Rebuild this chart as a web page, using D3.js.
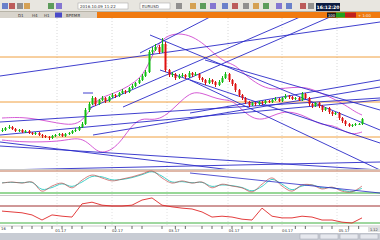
<!DOCTYPE html>
<html><head><meta charset="utf-8">
<script src="https://cdn.jsdelivr.net/npm/d3@7"></script>
<style>body{margin:0;background:#fff}svg{display:block;font-family:"DejaVu Sans",sans-serif}</style>
</head><body><svg id="c" width="380" height="240"></svg>
<script>
// ---- data ----
const opens=[69,70,72,73,71,69,70,68,69,67,66,67,65,64,63,62,64,65,66,64,66,67,69,70,73,76,90,96,102,96,100,102,99,103,105,104,107,109,108,112,114,117,120,124,128,148,150,153,148,156,130,125,126,122,124,125,123,127,125,126,122,120,117,120,118,115,118,122,126,120,116,110,105,102,98,95,97,96,98,97,99,98,100,101,99,102,104,103,101,102,100,106,102,96,94,97,94,90,92,88,86,87,82,79,76,74,75,76,76];
const closes=[70,72,73,71,69,70,68,69,67,66,67,65,64,63,62,64,65,66,64,66,67,69,70,73,76,90,96,102,96,100,102,99,103,105,104,107,109,108,112,114,117,120,124,128,148,150,153,148,156,130,125,126,122,124,125,123,127,125,126,122,120,117,120,118,115,118,122,126,120,116,110,105,102,98,95,97,96,98,97,99,98,100,101,99,102,104,103,101,102,100,106,102,96,94,97,94,90,92,88,86,87,82,79,76,74,75,76,76,81];
const highs=[72,73,75,74,72,71,71,70,70,68,68,68,66,65,64,65,66,67,67,67,68,70,72,74,78,92,98,104,103,101,104,103,104,107,106,108,111,110,113,116,118,122,126,130,150,153,156,155,162,158,131,128,127,126,127,126,129,128,128,127,123,121,122,121,119,120,124,128,127,121,117,111,106,103,99,98,98,99,99,100,100,101,103,102,103,106,105,104,103,103,108,107,103,97,98,98,95,93,93,89,88,88,83,80,77,76,77,77,82];
const lows=[68,69,71,70,68,68,67,67,66,65,65,64,62,62,60,61,63,64,63,63,65,66,68,69,72,75,88,95,94,95,99,97,98,102,102,103,106,106,107,111,113,116,119,123,127,146,149,146,147,128,123,123,120,121,123,121,122,123,124,120,118,115,116,116,113,114,117,121,118,114,108,103,100,96,93,94,94,95,95,96,97,97,99,98,98,101,101,100,100,99,99,101,94,92,93,92,88,89,86,84,85,80,77,74,73,73,74,75,75];
// Bollinger bands, read at [candle index, price]
const bbUpper=[[0,82],[6,83],[12,80],[18,76],[22,75],[25,82],[28,100],[32,105],[36,110],[40,118],[43,128],[46,152],[49,164],[53,167],[57,164],[61,155],[64,145],[67,138],[70,135],[73,125],[77,115],[81,110],[85,112],[89,113],[92,112],[95,108],[99,102],[103,95],[106,88],[108,85]];
const bbLower=[[0,60],[6,58],[12,58],[18,59],[22,62],[25,60],[28,50],[30,47],[33,50],[36,60],[39,75],[42,82],[45,80],[48,82],[51,90],[54,100],[57,108],[60,107],[63,103],[66,100],[69,100],[72,90],[75,82],[78,80],[81,84],[84,88],[87,88],[90,85],[93,80],[96,75],[99,75],[102,70],[105,65],[108,68]];
// trend lines [index1, price1, index2, price2]
const trendLines=[[-0.6,124,113.4,178],[26.4,92,89.4,183],[36.3,93,98.4,183],[41.4,147,72.3,200],[44.4,165,113.4,70],[47.4,130,113.4,57],[56.4,120,113.4,30],[60.9,140,113.4,90],[-0.6,78,113.4,102],[-0.6,65,113.4,100],[27.3,65,113.4,113],[56.4,87,113.4,120],[-0.6,58,113.4,12],[-0.6,54,113.4,30],[-0.6,30,113.4,38],[24.3,107,27.3,107]];
const levels=[143,98,63];
// oscillators, one value every 3 candles
const stochMain=[47,50,47,50,25,39,47,34,55,69,61,53,58,64,72,80,61,47,53,47,50,34,44,39,34,23,44,61,39,25,42,42,31,36,25,23,39];
const stochSignal=[48,49,48,49,30,35,45,38,50,65,64,56,57,62,70,78,66,50,51,48,49,38,42,40,35,26,38,57,44,29,39,42,34,35,28,24,33];
const rsi=[58,56,54,49,37,49,46,44,75,79,72,70,70,72,84,89,72,68,65,63,56,44,46,44,39,37,65,46,42,42,46,44,37,37,32,30,42];
const dateTicks=[[16,"01.17"],[33,"02.17"],[50,"03.17"],[68,"04.17"],[84,"04.17"],[101,"05.17"]];
const eventMarks=[3,6,9,12,15,18,21,24,31,34,39,42,48,52,55,60,63,66,69,72,75,78,81,88,91,96,99,104,107];

// ---- drawing ----
const svg=d3.select("#c");
const x=d3.scaleLinear().domain([0,108]).range([2,362]);
const yP=d3.scaleLinear().domain([30,181]).range([170,19]);
const yS=d3.scaleLinear().domain([20,80]).range([193,171]);
const yR=d3.scaleLinear().domain([30,70]).range([223,206]);

// toolbar
svg.append("rect").attr("x",0).attr("y",0).attr("width",380).attr("height",12).attr("fill","#e8e6e0");
svg.append("line").attr("x1",0).attr("x2",380).attr("y1",11.5).attr("y2",11.5).attr("stroke","#b8b4a8");
const iconX=[2,9,17,24,48,56,92,98,176,190,200,210,222,232,243,253,263,276,286,300,308];
iconX.forEach((v,i)=>svg.append("rect").attr("x",v).attr("y",3).attr("width",6).attr("height",6).attr("fill",["#4a66c4","#b03a3a","#7a7a7a","#d09030","#3a8a3a","#6a5acd"][i%6]).attr("opacity",0.8));
svg.append("rect").attr("x",78).attr("y",3).attr("width",50).attr("height",6).attr("fill","#fff").attr("stroke","#a0a0a0").attr("stroke-width",0.5);
svg.append("text").attr("x",80).attr("y",8).attr("font-size",4).attr("fill","#333").text("2016.10.09 11:22");
svg.append("rect").attr("x",140).attr("y",3).attr("width",30).attr("height",6).attr("fill","#fff").attr("stroke","#a0a0a0").attr("stroke-width",0.5);
svg.append("text").attr("x",142).attr("y",8).attr("font-size",4).attr("fill","#333").text("EURUSD");
svg.append("rect").attr("x",316).attr("y",3).attr("width",24).attr("height",8).attr("fill","#0a1a40");
svg.append("text").attr("x",328).attr("y",8.8).attr("text-anchor","middle").attr("font-size",4.6).attr("font-weight","bold").attr("fill","#fff").text("16:12:20");

// tab row
svg.append("rect").attr("x",0).attr("y",12).attr("width",380).attr("height",6).attr("fill","#d8d4cc");
[[18,"D1"],[32,"H4"],[44,"H1"],[66,"ВРЕМЯ"]].forEach(d=>svg.append("text").attr("x",d[0]).attr("y",16.6).attr("font-size",4).attr("fill","#333").text(d[1]));
svg.append("rect").attr("x",55).attr("y",12.5).attr("width",7).attr("height",5).attr("fill","#4a4ac8");
svg.append("rect").attr("x",97).attr("y",12).attr("width",283).attr("height",6).attr("fill","#f07a10");
svg.append("rect").attr("x",327).attr("y",12.5).attr("width",9).attr("height",5).attr("fill","#1a1a1a");
svg.append("text").attr("x",331.5).attr("y",16.6).attr("text-anchor","middle").attr("font-size",3.8).attr("fill","#fff").text("100");
svg.append("rect").attr("x",336).attr("y",12.5).attr("width",9).attr("height",5).attr("fill","#20a020");
svg.append("rect").attr("x",345).attr("y",12.5).attr("width",11).attr("height",5).attr("fill","#c02020");
svg.append("text").attr("x",358).attr("y",16.6).attr("font-size",3.8).attr("fill","#eee").text("+ 1:00");

// main area clip
svg.append("clipPath").attr("id","mc").append("rect").attr("x",0).attr("y",18).attr("width",380).attr("height",151);
const main=svg.append("g").attr("clip-path","url(#mc)");
[57,112,167,228,282,337].forEach(v=>{
  main.append("line").attr("x1",v).attr("x2",v).attr("y1",18).attr("y2",169).attr("stroke","#d8d8d8").attr("stroke-dasharray","1,2");
  svg.append("line").attr("x1",v).attr("x2",v).attr("y1",170).attr("y2",226).attr("stroke","#e2e2e2").attr("stroke-dasharray","1,2");
});
levels.forEach(p=>main.append("line").attr("x1",0).attr("x2",380).attr("y1",yP(p)).attr("y2",yP(p)).attr("stroke","#f0a040").attr("stroke-width",1));

// bollinger
const bbLine=d3.line().x(d=>x(d[0])).y(d=>yP(d[1])).curve(d3.curveBasis);
[bbUpper,bbLower].forEach(a=>main.append("path").attr("d",bbLine(a)).attr("fill","none").attr("stroke","#d04ad0").attr("stroke-width",0.9));

// trend lines
trendLines.forEach(t=>main.append("line").attr("x1",x(t[0])).attr("y1",yP(t[1])).attr("x2",x(t[2])).attr("y2",yP(t[3])).attr("stroke","#2a2ac8").attr("stroke-width",0.9));

// candles
const idx=d3.range(closes.length);
main.selectAll(".wick").data(idx).join("line").attr("x1",i=>Math.round(x(i))+0.5).attr("x2",i=>Math.round(x(i))+0.5)
  .attr("y1",i=>yP(highs[i])).attr("y2",i=>yP(lows[i])).attr("stroke",i=>closes[i]>=opens[i]?"#10b010":"#d01010").attr("stroke-width",1);
main.selectAll(".body").data(idx).join("rect").attr("x",i=>Math.round(x(i))-0.5).attr("width",2)
  .attr("y",i=>yP(Math.max(opens[i],closes[i]))).attr("height",i=>Math.max(1,yP(Math.min(opens[i],closes[i]))-yP(Math.max(opens[i],closes[i]))))
  .attr("fill",i=>closes[i]>=opens[i]?"#10c010":"#e01010");

// panel separators
[169.5,195.5,226].forEach(v=>svg.append("line").attr("x1",0).attr("x2",380).attr("y1",v).attr("y2",v).attr("stroke","#c8c8c8"));

// stochastic
svg.append("line").attr("x1",0).attr("x2",380).attr("y1",yS(80)).attr("y2",yS(80)).attr("stroke","#c07050");
svg.append("line").attr("x1",0).attr("x2",380).attr("y1",yS(20)).attr("y2",yS(20)).attr("stroke","#30b030");
const oscLine=(ys)=>d3.line().x((d,i)=>x(i*3)).y(d=>ys(d)).curve(d3.curveCatmullRom);
svg.append("path").attr("d",oscLine(yS)(stochSignal)).attr("fill","none").attr("stroke","#40d0c8").attr("stroke-width",1);
svg.append("path").attr("d",oscLine(yS)(stochMain)).attr("fill","none").attr("stroke","#c04848").attr("stroke-width",0.8).attr("opacity",0.85);
svg.append("line").attr("x1",190).attr("y1",173).attr("x2",380).attr("y2",193).attr("stroke","#2a2ac8").attr("stroke-width",0.8);

// rsi
svg.append("line").attr("x1",0).attr("x2",380).attr("y1",yR(70)).attr("y2",yR(70)).attr("stroke","#a03030");
svg.append("line").attr("x1",0).attr("x2",380).attr("y1",yR(30)).attr("y2",yR(30)).attr("stroke","#40b040");
svg.append("path").attr("d",d3.line().x((d,i)=>x(i*3)).y(d=>yR(d))(rsi)).attr("fill","none").attr("stroke","#e02828").attr("stroke-width",0.9);

// time axis
eventMarks.forEach(i=>svg.append("line").attr("x1",x(i)).attr("x2",x(i)).attr("y1",226).attr("y2",229).attr("stroke","#444").attr("stroke-width",0.8));
dateTicks.forEach(d=>svg.append("text").attr("x",x(d[0])).attr("y",232).attr("font-size",3.8).attr("fill","#333").text(d[1]));
svg.append("text").attr("x",1).attr("y",229.5).attr("font-size",3.8).attr("fill","#333").text("16");

// bottom bar
svg.append("rect").attr("x",0).attr("y",233).attr("width",380).attr("height",7).attr("fill","#c8ccd4");
[300,320,340,360].forEach(v=>svg.append("rect").attr("x",v).attr("y",234).attr("width",18).attr("height",5).attr("fill","#e6e8ee").attr("stroke","#a0a4b0").attr("stroke-width",0.5));
svg.append("rect").attr("x",368).attr("y",226).attr("width",12).attr("height",6).attr("fill","#e0e0e0");
svg.append("text").attr("x",370).attr("y",230.5).attr("font-size",3.5).attr("fill","#333").text("1.12");
</script></body></html>
